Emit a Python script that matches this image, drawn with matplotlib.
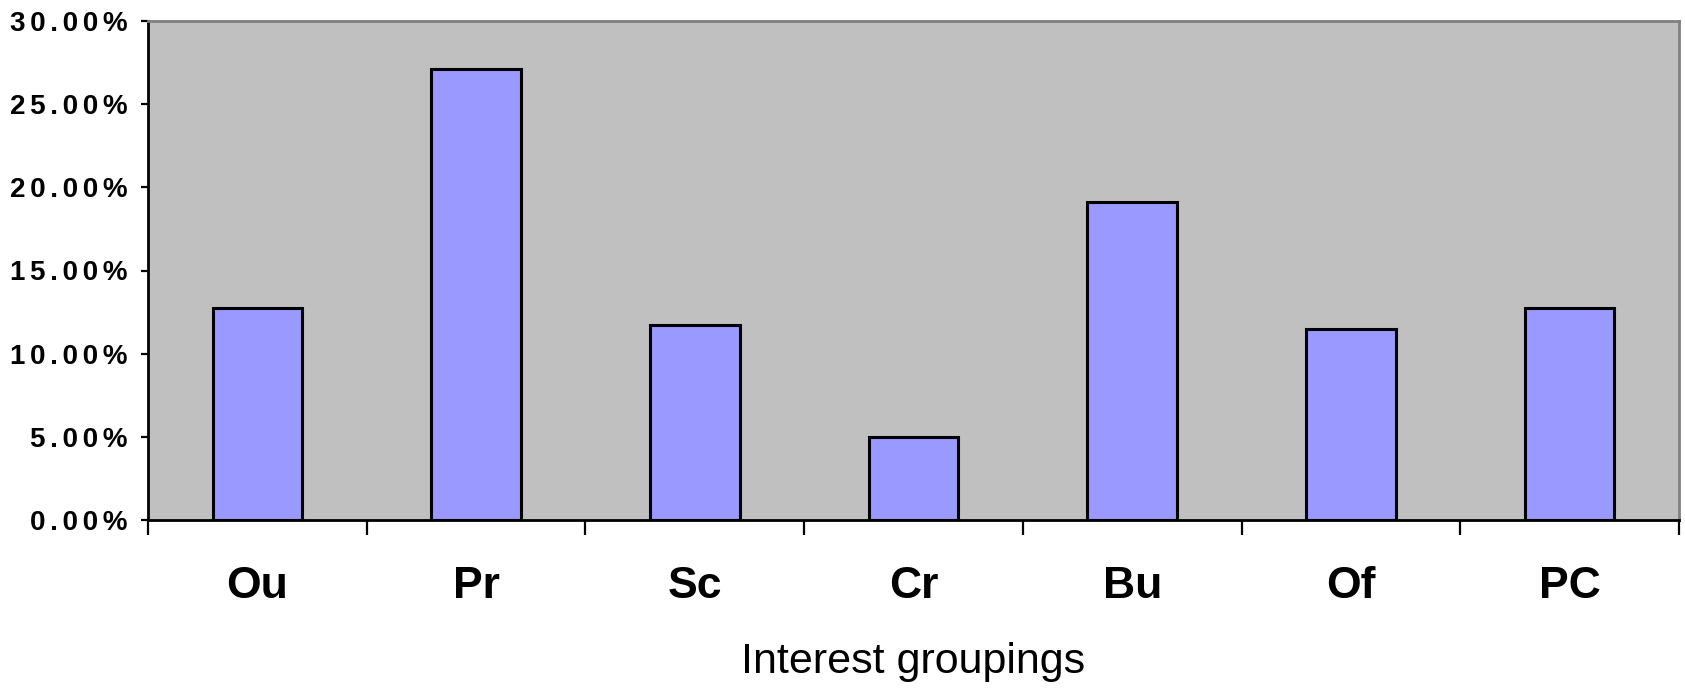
import matplotlib
matplotlib.use("Agg")
import matplotlib.pyplot as plt
from matplotlib.ticker import FixedLocator, FuncFormatter, MultipleLocator
import numpy as np

plt.rcParams["font.family"] = ["Liberation Sans", "DejaVu Sans"]

# data (percent of respondents)
groups = ["Ou", "Pr", "Sc", "Cr", "Bu", "Of", "PC"]
shares = [12.72, 27.12, 11.75, 5.0, 19.14, 11.5, 12.72]

fig = plt.figure(figsize=(16.85, 6.88), dpi=100)
ax = fig.add_axes([148/1685, 1-520/688, (1679-148)/1685, (520-21)/688])
ax.set_facecolor("#C0C0C0")

x = np.arange(len(groups)) + 0.5
ax.bar(x, shares, width=0.41, color="#9999FF", edgecolor="black", linewidth=2.2, zorder=3)

ax.set_xlim(0, len(groups))
ax.set_ylim(0, 30)

# category labels centred, ticks on the boundaries
ax.set_xticks(x)
ax.set_xticklabels(groups, fontsize=32, fontweight="bold")
ax.tick_params(axis="x", which="major", length=0, pad=33)
ax.xaxis.set_minor_locator(FixedLocator(np.arange(len(groups) + 1)))
ax.tick_params(axis="x", which="minor", length=11, width=1.6, direction="out")

# y labels, letter spaced like the original
ax.yaxis.set_major_locator(MultipleLocator(5))
ax.yaxis.set_major_formatter(FuncFormatter(lambda v, p: "\u2006".join("%.2f%%" % v)))
ax.tick_params(axis="y", length=5, width=1.6, pad=10)
for t in ax.get_yticklabels():
    t.set_fontweight("bold")
    t.set_fontsize(20)

for s in ["left", "bottom"]:
    ax.spines[s].set_color("black")
    ax.spines[s].set_linewidth(2)
for s in ["top", "right"]:
    ax.spines[s].set_color("#808080")
    ax.spines[s].set_linewidth(2)

fig.text((148+1679)/2/1685, 1-673/688, "Interest groupings", fontsize=31,
         ha="center", va="baseline")

plt.savefig("out.png", dpi=100)
